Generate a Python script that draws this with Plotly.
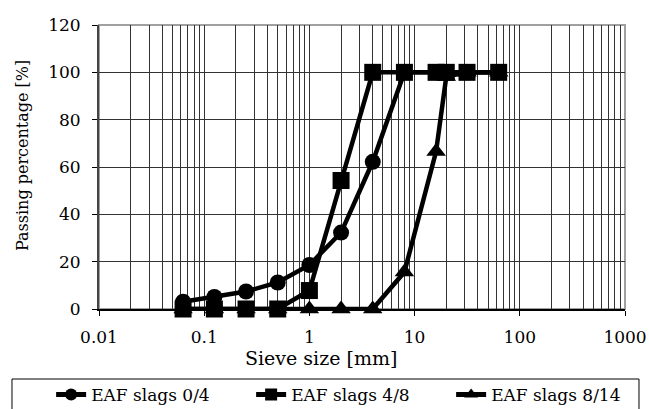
import plotly.graph_objects as go

sieve = [0.063, 0.125, 0.25, 0.5, 1, 2, 4, 8, 16, 20, 31.5, 63]
slag_0_4 = [3.1, 5.1, 7.4, 11.2, 18.6, 32.3, 62.2, 100, 100, 100, 100, 100]
slag_4_8 = [0, 0, 0, 0, 7.8, 54.3, 100, 100, 100, 100, 100, 100]
slag_8_14 = [0, 0, 0, 0, 0, 0, 0, 15.6, 66.5, 98.2, 100, 100]
names = ["EAF slags 0/4", "EAF slags 4/8", "EAF slags 8/14"]
x_ticks = [0.01, 0.1, 1, 10, 100, 1000]
x_labels = ["0.01", "0.1", "1", "10", "100", "1000"]

FONT = "DejaVu Serif"

fig = go.Figure()
series = [(slag_0_4, "circle", 16), (slag_4_8, "square", 17), (slag_8_14, "triangle-up", 17)]
for (vals, sym, sz), nm in zip(series, names):
    fig.add_trace(go.Scatter(
        x=sieve, y=vals, name=nm, mode="lines+markers",
        line=dict(color="black", width=4.5),
        marker=dict(symbol=sym, size=sz, color="black"),
        cliponaxis=False,
    ))

fig.update_layout(
    width=649, height=409,
    margin=dict(l=99, r=24, t=25, b=100, autoexpand=False),
    paper_bgcolor="white", plot_bgcolor="white",
    font=dict(family=FONT, size=17, color="black"),
    showlegend=True,
    legend=dict(
        orientation="h", x=-0.091, xanchor="left", y=-0.303, yanchor="middle",
        xref="paper", yref="paper",
        entrywidth=155, entrywidthmode="pixels",
        itemsizing="constant", borderwidth=0, bgcolor="rgba(0,0,0,0)",
        font=dict(family=FONT, size=17),
    ),
    xaxis=dict(
        type="log", range=[-2, 3],
        tickvals=x_ticks, ticktext=x_labels,
        showgrid=True, gridcolor="#333", gridwidth=1,
        minor=dict(showgrid=True, gridcolor="#333", gridwidth=1, dtick="D1", ticks=""),
        showline=True, linecolor="black", linewidth=1.5,
        ticks="outside", ticklen=5, tickcolor="black",
        ticklabelstandoff=7,
        zeroline=False,
        tickfont=dict(family=FONT, size=17),
    ),
    yaxis=dict(
        range=[0, 120], dtick=20,
        showgrid=True, gridcolor="#333", gridwidth=1,
        showline=True, linecolor="#444", linewidth=2,
        ticks="outside", ticklen=5, tickcolor="black",
        ticklabelstandoff=8,
        zeroline=False,
        tickfont=dict(family=FONT, size=17),
    ),
    shapes=[
        dict(type="rect", xref="x domain", yref="y domain", x0=0, x1=1, y0=0, y1=1,
             line=dict(color="#a0a0a0", width=2), layer="below"),
        dict(type="rect", xref="paper", yref="paper", x0=-0.1654, x1=1.0266, y0=-0.2465, y1=-0.37,
             line=dict(color="black", width=1), layer="above"),
    ],
    annotations=[
        dict(text="Sieve size [mm]", xref="paper", yref="paper", x=(321 - 99) / 526, y=(309 - 358) / 284,
             xanchor="center", yanchor="middle", showarrow=False, font=dict(family=FONT, size=19)),
        dict(text="Passing percentage [%]", xref="paper", yref="paper", x=(22 - 99) / 526, y=(309 - 156) / 284,
             xanchor="center", yanchor="middle", textangle=-90, showarrow=False, font=dict(family=FONT, size=16)),
    ],
)

fig.write_html("out.html")
